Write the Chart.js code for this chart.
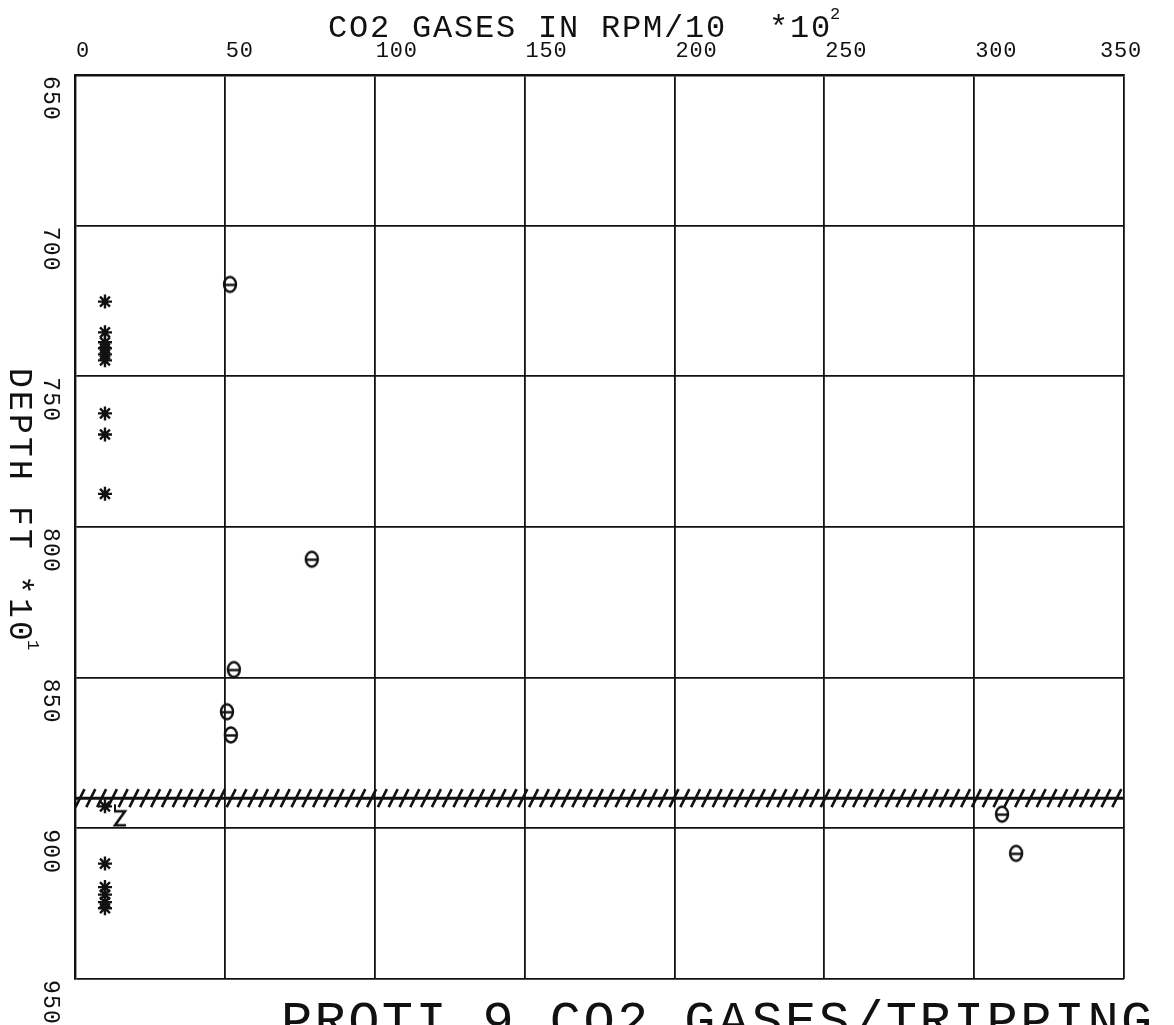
<!DOCTYPE html>
<html>
<head>
<meta charset="utf-8">
<title>PROTI 9 CO2 GASES/TRIPPING</title>
<script src="https://cdn.jsdelivr.net/npm/chart.js@4/dist/chart.umd.min.js"></script>
<style>
  html, body { margin: 0; padding: 0; background: #fff; overflow: hidden; }
  canvas { display: block; }
</style>
</head>
<body>
<canvas id="plot" width="1174" height="1025"></canvas>
<script>
// Axis ticks (CO2 gases along the top, depth down the side)
const xTicks = [0, 50, 100, 150, 200, 250, 300, 350];
const depthTicks = [650, 700, 750, 800, 850, 900, 950];

// CO2 while drilling (asterisks): CO2 value and depth (ft x10)
const starCO2   = [10, 10, 10, 10, 10, 10, 10, 10, 10, 10, 10, 10, 10, 10, 10];
const starDepth = [725.2, 735.4, 738.7, 740.7, 742.7, 744.7, 762.3, 769.3, 789.0,
                   892.7, 911.7, 919.5, 922.0, 924.5, 926.5];

// CO2 on trips (theta symbols)
const tripCO2   = [51.7, 79.0, 53.0, 50.7, 52.0, 309.3, 314.0];
const tripDepth = [719.5, 810.7, 847.3, 861.3, 869.0, 895.3, 908.3];

// Single "Z" flag point
const flagCO2   = [15];
const flagDepth = [896];

// Hatched horizon line
const hatchDepth = 890;

// Text
const topTitle = 'CO2 GASES IN RPM/10  *10';
const topTitleSup = '2';
const sideTitle = 'DEPTH FT *10';
const sideTitleSup = '1';
const bottomTitle = 'PROTI 9 CO2 GASES/TRIPPING';

const INK = '#111';
const FONT = '"Liberation Mono", "DejaVu Sans Mono", monospace';

function thetaSymbol() {
  const c = document.createElement('canvas');
  c.width = 20; c.height = 22;
  const g = c.getContext('2d');
  g.strokeStyle = INK;
  g.lineWidth = 2.4;
  g.beginPath();
  g.ellipse(10, 11, 6, 7.5, 0, 0, Math.PI * 2);
  g.stroke();
  g.beginPath();
  g.moveTo(5, 11.5);
  g.lineTo(15, 11.5);
  g.stroke();
  return c;
}

function zSymbol() {
  const c = document.createElement('canvas');
  c.width = 22; c.height = 26;
  const g = c.getContext('2d');
  g.strokeStyle = INK;
  g.lineWidth = 2.6;
  g.beginPath();
  g.moveTo(5, 8);
  g.lineTo(16, 8);
  g.lineTo(6, 22);
  g.lineTo(17, 22);
  g.stroke();
  g.lineWidth = 2;
  g.beginPath();
  g.moveTo(6, 1);
  g.lineTo(6, 8);
  g.stroke();
  return c;
}

function toPoints(xs, ys) {
  return xs.map((x, i) => ({ x: x, y: ys[i] }));
}

// Draws text with a fixed pitch per character starting at (0,0) of the current transform.
function spacedText(ctx, text, pitch) {
  for (let i = 0; i < text.length; i++) {
    ctx.fillText(text[i], i * pitch, 0);
  }
  return text.length * pitch;
}

const annotations = {
  id: 'annotations',
  afterDraw(chart) {
    const ctx = chart.ctx;
    const xs = chart.scales.x;
    const ys = chart.scales.y;
    const area = chart.chartArea;
    ctx.save();
    ctx.fillStyle = INK;
    ctx.strokeStyle = INK;
    ctx.textBaseline = 'alphabetic';
    ctx.textAlign = 'left';

    // hatched horizon
    const hy = ys.getPixelForValue(hatchDepth);
    ctx.lineWidth = 3;
    ctx.beginPath();
    ctx.moveTo(area.left, hy);
    ctx.lineTo(area.right, hy);
    ctx.stroke();
    ctx.lineWidth = 2.6;
    ctx.beginPath();
    for (let x = area.left + 5; x < area.right - 3; x += 10.8) {
      ctx.moveTo(x - 4.5, hy + 9);
      ctx.lineTo(x + 4.5, hy - 9);
    }
    ctx.stroke();

    // top tick labels, starting at each grid line
    ctx.font = '22px ' + FONT;
    xTicks.forEach(v => {
      const label = String(v);
      const w = label.length * 14;
      let px = xs.getPixelForValue(v) + 1;
      if (px + w > chart.width - 32) px = chart.width - 32 - w;
      ctx.save();
      ctx.translate(px, 57);
      spacedText(ctx, label, 14);
      ctx.restore();
    });

    // side tick labels, rotated to read downward
    ctx.font = '23px ' + FONT;
    depthTicks.forEach(v => {
      const py = ys.getPixelForValue(v);
      ctx.save();
      ctx.translate(44, py + 1);
      ctx.rotate(Math.PI / 2);
      spacedText(ctx, String(v), 15);
      ctx.restore();
    });

    // top title
    ctx.font = '32px ' + FONT;
    ctx.save();
    ctx.translate(328, 37);
    const tw = spacedText(ctx, topTitle, 21);
    ctx.restore();
    ctx.font = '17px ' + FONT;
    ctx.fillText(topTitleSup, 328 + tw - 2, 19);

    // side title
    ctx.font = '33px ' + FONT;
    ctx.save();
    ctx.translate(10, 368);
    ctx.rotate(Math.PI / 2);
    const sw = spacedText(ctx, sideTitle, 23);
    ctx.font = '17px ' + FONT;
    ctx.fillText(sideTitleSup, sw - 4, -18);
    ctx.restore();

    // bottom title (runs off the lower edge)
    ctx.font = '52px ' + FONT;
    ctx.save();
    ctx.translate(281, 1037);
    spacedText(ctx, bottomTitle, 33.6);
    ctx.restore();

    ctx.restore();
  }
};

const gridStyle = { color: INK, lineWidth: 1.8, drawTicks: false };
const borderStyle = { display: true, color: INK, width: 2.4 };

new Chart(document.getElementById('plot'), {
  type: 'scatter',
  data: {
    datasets: [
      {
        label: 'CO2 drilling',
        data: toPoints(starCO2, starDepth),
        pointStyle: 'star',
        radius: 7,
        borderWidth: 2.4,
        borderColor: INK,
        backgroundColor: INK
      },
      {
        label: 'CO2 trips',
        data: toPoints(tripCO2, tripDepth),
        pointStyle: thetaSymbol(),
        radius: 9
      },
      {
        label: 'Z',
        data: toPoints(flagCO2, flagDepth),
        pointStyle: zSymbol(),
        radius: 10
      }
    ]
  },
  options: {
    responsive: false,
    animation: false,
    devicePixelRatio: 1,
    layout: { padding: { left: 75, top: 75, right: 50, bottom: 46 } },
    plugins: { legend: { display: false }, tooltip: { enabled: false } },
    scales: {
      x: {
        type: 'linear', position: 'top', min: 0, max: 350,
        ticks: { display: false, stepSize: 50 },
        grid: gridStyle, border: borderStyle
      },
      y: {
        type: 'linear', reverse: true, min: 650, max: 950,
        ticks: { display: false, stepSize: 50 },
        grid: gridStyle, border: borderStyle
      }
    }
  },
  plugins: [annotations]
});
</script>
</body>
</html>
